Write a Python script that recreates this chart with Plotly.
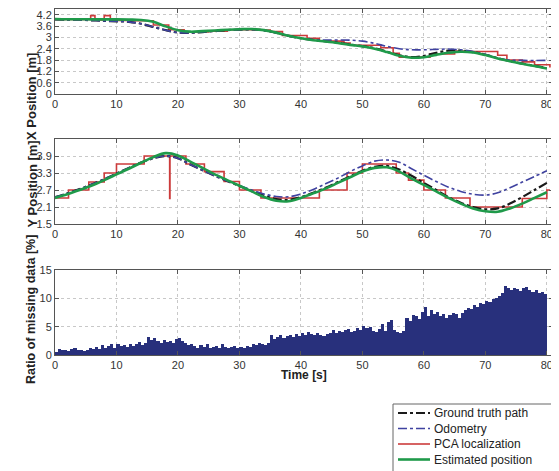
import plotly.graph_objects as go

# ---------------- data ----------------
t_line = [0, 2, 4, 6, 8, 10, 12, 14, 16, 18, 20, 22, 24, 26, 28, 30, 32, 34, 36, 38, 40,
          42, 44, 46, 48, 50, 52, 54, 56, 58, 60, 62, 64, 66, 68, 70, 72, 74, 76, 78, 80]

gt_x = [3.95, 3.94, 3.93, 3.90, 3.87, 3.85, 3.82, 3.72, 3.55, 3.38, 3.25, 3.24, 3.28, 3.33,
        3.38, 3.41, 3.42, 3.37, 3.24, 3.08, 2.95, 2.86, 2.79, 2.72, 2.62, 2.53, 2.42, 2.24,
        2.05, 1.95, 2.02, 2.18, 2.30, 2.30, 2.22, 2.08, 1.90, 1.74, 1.61, 1.49, 1.37]
odo_x = [3.95, 3.94, 3.93, 3.90, 3.87, 3.85, 3.82, 3.72, 3.55, 3.38, 3.25, 3.24, 3.28, 3.33,
         3.38, 3.41, 3.42, 3.37, 3.24, 3.08, 2.95, 2.88, 2.86, 2.86, 2.85, 2.80, 2.68, 2.52,
         2.40, 2.34, 2.34, 2.36, 2.38, 2.34, 2.25, 2.10, 1.90, 1.80, 1.78, 1.77, 1.78]
est_x = [3.97, 3.96, 3.96, 3.95, 3.95, 3.95, 3.94, 3.92, 3.82, 3.58, 3.38, 3.30, 3.33, 3.36,
         3.40, 3.43, 3.44, 3.38, 3.25, 3.08, 2.95, 2.85, 2.78, 2.70, 2.60, 2.52, 2.40, 2.22,
         2.02, 1.92, 1.95, 2.07, 2.18, 2.24, 2.20, 2.06, 1.88, 1.73, 1.60, 1.48, 1.35]

pca_x_t = [0, 5.8, 6.5, 8.0, 9.0, 12, 16, 18.5, 21, 25, 28, 33, 35, 37, 41, 43, 47, 48, 53,
           55, 56, 61, 65, 67, 72, 73.5, 76, 78, 80.5]
pca_x = [3.95, 4.15, 3.92, 4.15, 3.90, 3.88, 3.65, 3.40, 3.28, 3.32, 3.40, 3.38, 3.30, 3.10,
         2.95, 2.80, 2.70, 2.58, 2.45, 2.15, 1.95, 2.12, 2.28, 2.25, 2.05, 1.80, 1.70, 1.55, 1.40]

gt_y = [2.45, 2.58, 2.73, 2.90, 3.08, 3.28, 3.48, 3.67, 3.82, 3.90, 3.82, 3.60, 3.40, 3.20,
        3.02, 2.84, 2.66, 2.50, 2.38, 2.35, 2.45, 2.60, 2.78, 2.98, 3.18, 3.38, 3.52, 3.55,
        3.42, 3.20, 2.95, 2.70, 2.45, 2.25, 2.10, 2.02, 2.05, 2.22, 2.45, 2.70, 2.95]
odo_y = [2.45, 2.58, 2.73, 2.90, 3.08, 3.28, 3.48, 3.67, 3.82, 3.90, 3.82, 3.60, 3.40, 3.20,
         3.02, 2.86, 2.70, 2.56, 2.47, 2.46, 2.56, 2.72, 2.92, 3.12, 3.35, 3.55, 3.72, 3.76,
         3.68, 3.45, 3.22, 3.00, 2.80, 2.65, 2.55, 2.52, 2.60, 2.78, 2.98, 3.18, 3.38]
est_y = [2.42, 2.55, 2.70, 2.86, 3.05, 3.25, 3.45, 3.66, 3.86, 4.00, 3.92, 3.70, 3.48, 3.25,
         3.05, 2.85, 2.65, 2.45, 2.32, 2.30, 2.42, 2.58, 2.75, 2.95, 3.15, 3.35, 3.48, 3.50,
         3.35, 3.10, 2.88, 2.65, 2.42, 2.22, 2.05, 1.95, 1.93, 2.05, 2.22, 2.42, 2.62]

pca_y_t = [0, 2.2, 5.5, 8, 10, 14.5, 18.65, 18.7, 21.3, 24.3, 27.5, 30, 33.5, 43, 47.5, 50,
           55.5, 57.5, 60, 63.5, 67.5, 76, 80, 80.5]
pca_y = [2.42, 2.70, 2.98, 3.30, 3.62, 3.90, 2.40, 3.90, 3.62, 3.35, 3.00, 2.70, 2.42, 2.70,
         3.30, 3.62, 3.30, 3.05, 2.70, 2.42, 2.10, 2.40, 2.70, 2.70]

bar_t = [round(0.25 + 0.5 * i, 2) for i in range(160)]
missing = [
    0.6, 1.1, 0.8, 0.9, 0.7, 1.0, 1.2, 0.9, 0.8, 0.7,
    0.9, 1.2, 1.0, 1.5, 1.1, 1.7, 1.3, 1.6, 2.0, 1.2,
    1.9, 1.6, 1.7, 1.5, 1.9, 1.6, 2.0, 2.3, 1.8, 2.2,
    3.1, 2.6, 3.0, 2.4, 2.2, 2.6, 2.3, 2.5, 2.1, 2.8,
    3.0, 2.5, 2.2, 1.8, 2.0, 1.6, 1.3, 1.7, 1.4, 1.9,
    1.2, 1.5, 1.6, 1.3, 1.9, 1.5, 1.2, 1.4, 1.6, 1.3,
    1.5, 1.3, 1.6, 1.4, 1.9, 1.7, 2.1, 2.0, 1.8, 2.2,
    3.5, 2.8, 3.2, 3.6, 3.0, 3.3, 3.5, 3.2, 3.7, 3.4,
    3.9, 3.6, 4.1, 3.7, 3.5, 3.8, 3.6, 3.4, 3.7, 3.9,
    4.5, 3.8, 4.2, 4.0, 4.4, 4.6, 4.1, 4.3, 4.8, 4.5,
    5.2, 4.7, 5.0, 4.3, 4.1, 4.6, 5.5, 4.2, 5.8, 6.2,
    4.5, 4.0, 3.9, 4.2, 6.5, 6.0, 7.0, 6.8, 6.4, 7.6,
    8.4, 6.9, 8.0, 7.2, 7.6, 6.8, 7.3, 6.5, 7.0, 7.4,
    7.2, 6.6, 7.5, 7.9, 8.3, 8.1, 8.8, 8.5, 9.2, 9.0,
    9.5, 9.3, 9.8, 10.1, 10.5, 11.0, 12.2, 11.8, 11.5, 11.9,
    11.6, 11.3, 11.8, 12.0, 11.4, 11.1, 11.5, 10.9, 11.2, 10.7,
]

x_ticks = [0, 10, 20, 30, 40, 50, 60, 70, 80]
yx_ticks = [0, 0.6, 1.2, 1.8, 2.4, 3, 3.6, 4.2]
yx_labels = ["0", "0.6", "1.2", "1.8", "2.4", "3", "3.6", "4.2"]
yy_ticks = [1.5, 2.1, 2.7, 3.3, 3.9]
yy_labels = ["1.5", "2.1", "2.7", "3.3", "3.9"]
yb_ticks = [0, 5, 10, 15]

legend_names = ["Ground truth path", "Odometry", "PCA localization", "Estimated position"]

# ---------------- styles ----------------
C_GT = "#1a1a1a"
C_ODO = "#3f42a0"
C_PCA = "#cc3b3b"
C_EST = "#1f9a4a"
C_BAR = "#28307c"
FONT = "Liberation Sans, Arial, sans-serif"

fig = go.Figure()

def add_set(xa, ya, y_gt, y_odo, y_est, pt, pv):
    fig.add_trace(go.Scatter(x=pt, y=pv, mode="lines", line=dict(color=C_PCA, width=1.6, shape="hv"),
                             name="PCA localization", showlegend=False, xaxis=xa, yaxis=ya))
    fig.add_trace(go.Scatter(x=t_line, y=y_gt, mode="lines",
                             line=dict(color=C_GT, width=2.2, dash="dashdot", shape="spline"),
                             name="Ground truth path", showlegend=False, xaxis=xa, yaxis=ya))
    fig.add_trace(go.Scatter(x=t_line, y=y_odo, mode="lines",
                             line=dict(color=C_ODO, width=1.6, dash="dashdot", shape="spline"),
                             name="Odometry", showlegend=False, xaxis=xa, yaxis=ya))
    fig.add_trace(go.Scatter(x=t_line, y=y_est, mode="lines",
                             line=dict(color=C_EST, width=2.6, shape="spline"),
                             name="Estimated position", showlegend=False, xaxis=xa, yaxis=ya))

add_set("x", "y", gt_x, odo_x, est_x, pca_x_t, pca_x)
add_set("x2", "y2", gt_y, odo_y, est_y, pca_y_t, pca_y)

fig.add_trace(go.Bar(x=bar_t, y=missing, width=0.5, marker=dict(color=C_BAR, line=dict(width=0)),
                     showlegend=False, xaxis="x3", yaxis="y3"))

# page body has an 8px margin: figure spans page pixels 8..559 x 8..471
OFF = 8
W, H = 559 - OFF, 471 - OFF

def px(x):
    return (x - OFF) / W

def py(y):
    return (H - (y - OFF)) / H

xdom = [px(55), px(553)]
def ydom(top, bot):
    return [py(bot), py(top)]

axis_common = dict(showline=True, linecolor="#555555", linewidth=1, mirror="ticks",
                   ticks="inside", ticklen=4, tickcolor="#555555", automargin=False,
                   showgrid=True, gridcolor="#c8c8c8", griddash="dot", gridwidth=1,
                   zeroline=False, tickfont=dict(family=FONT, size=11, color="#333333"))

# ---- manual legend box ----
shapes = [dict(type="rect", xref="paper", yref="paper", x0=px(393), x1=px(555),
               y0=py(472), y1=py(404), line=dict(color="#666666", width=1),
               fillcolor="white", layer="above")]
annotations = []
leg_styles = [(C_GT, 2.2, "dashdot"), (C_ODO, 1.6, "dashdot"), (C_PCA, 1.6, "solid"),
              (C_EST, 2.6, "solid")]
for i, (nm, (col, w, dsh)) in enumerate(zip(legend_names, leg_styles)):
    yp = 413 + i * 15.5
    shapes.append(dict(type="line", xref="paper", yref="paper", x0=px(398), x1=px(430),
                       y0=py(yp), y1=py(yp), line=dict(color=col, width=w, dash=dsh),
                       layer="above"))
    annotations.append(dict(text=nm, x=px(432), y=py(yp), xref="paper", yref="paper",
                            xanchor="left", yanchor="middle", showarrow=False,
                            font=dict(family=FONT, size=12, color="#222222")))

annotations += [
    dict(text="<b>X Position [m]</b>", x=px(22), y=py(51), xref="paper", yref="paper",
         textangle=-90, showarrow=False, font=dict(family=FONT, size=13, color="#222222")),
    dict(text="<b>Y Position [m]</b>", x=px(22), y=py(184), xref="paper", yref="paper",
         textangle=-90, showarrow=False, font=dict(family=FONT, size=13, color="#222222")),
    dict(text="<b>Ratio of missing data [%]</b>", x=px(22), y=py(310), xref="paper",
         yref="paper", textangle=-90, showarrow=False,
         font=dict(family=FONT, size=12.5, color="#222222")),
    dict(text="<b>Time [s]</b>", x=px(304), y=py(384), xref="paper", yref="paper",
         showarrow=False, font=dict(family=FONT, size=12, color="#222222")),
]

fig.update_layout(
    width=W, height=H,
    margin=dict(l=0, r=0, t=0, b=0, autoexpand=False),
    paper_bgcolor="white", plot_bgcolor="white",
    font=dict(family=FONT, color="#222222"),
    xaxis=dict(domain=xdom, range=[0, 81], tickvals=x_ticks, anchor="y", **axis_common),
    yaxis=dict(domain=ydom(9, 94), range=[0, 4.5], tickvals=yx_ticks, ticktext=yx_labels,
               anchor="x", **axis_common),
    xaxis2=dict(domain=xdom, range=[0, 81], tickvals=x_ticks, anchor="y2", **axis_common),
    yaxis2=dict(domain=ydom(139, 224), range=[1.5, 4.5], tickvals=yy_ticks, ticktext=yy_labels,
                anchor="x2", **axis_common),
    xaxis3=dict(domain=xdom, range=[0, 81], tickvals=x_ticks, anchor="y3", **axis_common),
    yaxis3=dict(domain=ydom(270, 355), range=[0, 15], tickvals=yb_ticks, anchor="x3",
                **axis_common),
    bargap=0,
    showlegend=False,
    shapes=shapes,
    annotations=annotations,
)

fig.write_html("out.html")
